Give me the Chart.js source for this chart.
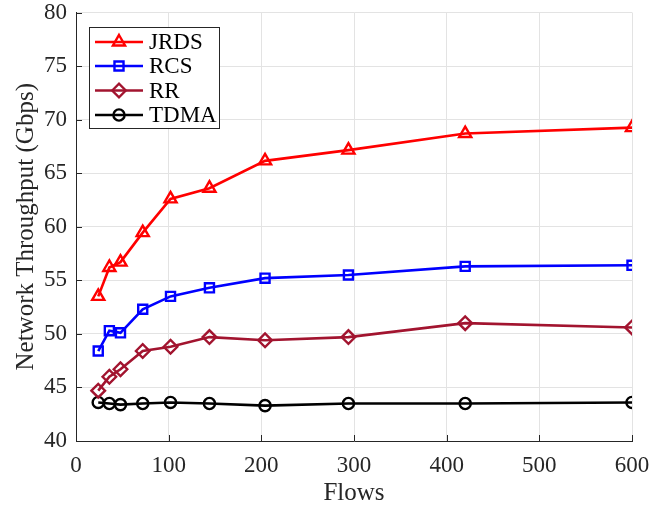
<!DOCTYPE html>
<html>
<head>
<meta charset="utf-8">
<script src="https://cdn.jsdelivr.net/npm/chart.js@4/dist/chart.umd.min.js"></script>
<style>
  html, body { margin: 0; padding: 0; background: #fff; }
  canvas { display: block; }
</style>
</head>
<body>
<canvas id="c" width="670" height="508"></canvas>
<script>
// Number of flows on the x axis
const flows = [24, 36, 48, 72, 102, 144, 204, 294, 420, 600];

// Network throughput (Gbps) per scheduling scheme
const jrds = [53.5, 56.2, 56.7, 59.45, 62.6, 63.6, 66.15, 67.15, 68.7, 69.25];
const rcs  = [48.4, 50.3, 50.1, 52.3, 53.5, 54.3, 55.2, 55.5, 56.3, 56.4];
const rr   = [44.7, 46.0, 46.7, 48.4, 48.8, 49.7, 49.4, 49.7, 51.0, 50.6];
const tdma = [43.6, 43.5, 43.4, 43.5, 43.6, 43.5, 43.3, 43.5, 43.5, 43.6];

const seriesNames = ['JRDS', 'RCS', 'RR', 'TDMA'];
const xTicks = [0, 100, 200, 300, 400, 500, 600];
const yTicks = [40, 45, 50, 55, 60, 65, 70, 75, 80];

const FONT = "'Liberation Serif', 'Times New Roman', serif";
const AXIS = '#262626';
const GRID = '#e3e3e3';

function pairs(ys) { return flows.map((x, i) => ({ x: x, y: ys[i] })); }

function series(label, ys, color, style, radius) {
  return {
    label: label,
    data: pairs(ys),
    borderColor: color,
    backgroundColor: color,
    borderWidth: 2.6,
    pointStyle: style,
    pointRadius: radius,
    pointHoverRadius: radius,
    pointBorderWidth: 2.4,
    pointBorderColor: color,
    pointBackgroundColor: 'rgba(0,0,0,0)',
    tension: 0,
    fill: false
  };
}

// Inward tick marks and a boxed legend inside the plot
const axesDecor = {
  id: 'axesDecor',
  afterDraw(chart) {
    const ctx = chart.ctx;
    const xs = chart.scales.x, ys = chart.scales.y;
    const area = chart.chartArea;
    ctx.save();
    ctx.strokeStyle = AXIS;
    ctx.lineWidth = 1;
    const len = 6;
    xTicks.forEach(v => {
      const px = Math.round(xs.getPixelForValue(v)) + 0.5;
      ctx.beginPath();
      ctx.moveTo(px, area.bottom);
      ctx.lineTo(px, area.bottom - len);
      ctx.stroke();
    });
    yTicks.forEach(v => {
      const py = Math.round(ys.getPixelForValue(v)) + 0.5;
      ctx.beginPath();
      ctx.moveTo(area.left, py);
      ctx.lineTo(area.left + len, py);
      ctx.stroke();
    });

    // legend box
    const bx = 89.5, by = 27.5, bw = 130, bh = 101;
    ctx.fillStyle = '#ffffff';
    ctx.fillRect(bx, by, bw, bh);
    ctx.strokeStyle = AXIS;
    ctx.lineWidth = 1;
    ctx.strokeRect(bx, by, bw, bh);

    const rowY = [42, 66, 90.5, 115];
    ctx.font = '23px ' + FONT;
    ctx.textBaseline = 'middle';
    ctx.textAlign = 'left';
    chart.data.datasets.forEach((ds, i) => {
      const y = rowY[i];
      ctx.strokeStyle = ds.borderColor;
      ctx.lineWidth = ds.borderWidth;
      ctx.beginPath();
      ctx.moveTo(95, y);
      ctx.lineTo(143, y);
      ctx.stroke();
      ctx.lineWidth = ds.pointBorderWidth;
      ctx.fillStyle = 'rgba(0,0,0,0)';
      Chart.helpers.drawPoint(ctx, {
        pointStyle: ds.pointStyle,
        radius: ds.pointRadius,
        rotation: 0,
        borderWidth: ds.pointBorderWidth
      }, 119, y);
      ctx.fillStyle = '#000';
      ctx.fillText(ds.label, 149, y + 1);
    });
    ctx.restore();
  }
};

new Chart(document.getElementById('c'), {
  type: 'line',
  data: {
    datasets: [
      series(seriesNames[0], jrds, '#ff0000', 'triangle', 7),
      series(seriesNames[1], rcs, '#0000ff', 'rect', 6.4),
      series(seriesNames[2], rr, '#a2142f', 'rectRot', 6.8),
      series(seriesNames[3], tdma, '#000000', 'circle', 5.6)
    ]
  },
  options: {
    responsive: false,
    devicePixelRatio: 1,
    animation: false,
    events: [],
    layout: { padding: { top: 12.5, right: 38, left: 0, bottom: 0 } },
    plugins: {
      legend: { display: false },
      tooltip: { enabled: false }
    },
    scales: {
      x: {
        type: 'linear',
        min: 0,
        max: 600,
        afterBuildTicks(scale) { scale.ticks = xTicks.map(v => ({ value: v })); },
        afterFit(scale) { scale.height = 67; },
        grid: { color: GRID, lineWidth: 1, drawTicks: false },
        border: { color: AXIS, width: 1 },
        ticks: {
          color: AXIS,
          padding: 11,
          font: { family: FONT, size: 23 },
          maxRotation: 0
        },
        title: {
          display: true,
          text: 'Flows',
          color: AXIS,
          font: { family: FONT, size: 25 },
          padding: { top: 0, bottom: 0 }
        }
      },
      y: {
        type: 'linear',
        min: 40,
        max: 80,
        afterBuildTicks(scale) { scale.ticks = yTicks.map(v => ({ value: v })); },
        afterFit(scale) {
          scale.width = 76;
          scale.paddingTop = 0;
          scale.paddingBottom = 0;
        },
        grid: { color: GRID, lineWidth: 1, drawTicks: false },
        border: { color: AXIS, width: 1 },
        ticks: {
          color: AXIS,
          padding: 9,
          font: { family: FONT, size: 23 }
        },
        title: {
          display: true,
          text: 'Network Throughput (Gbps)',
          color: AXIS,
          font: { family: FONT, size: 25 },
          padding: { top: 11, bottom: 0 }
        }
      }
    }
  },
  plugins: [axesDecor]
});
</script>
</body>
</html>
